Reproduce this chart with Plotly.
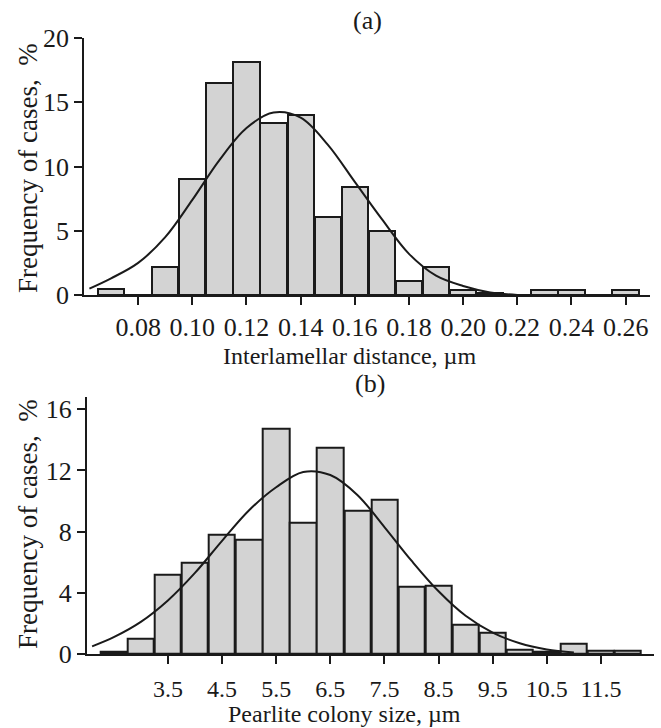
import plotly.graph_objects as go

# ---------------- data ----------------
# Panel (a): interlamellar distance histogram
a_centers = [0.07, 0.08, 0.09, 0.10, 0.11, 0.12, 0.13, 0.14, 0.15, 0.16,
             0.17, 0.18, 0.19, 0.20, 0.21, 0.22, 0.23, 0.24, 0.25, 0.26]
a_freq = [0.5, 0.0, 2.2, 9.0, 16.5, 18.1, 13.4, 14.0, 6.1, 8.4,
          5.0, 1.1, 2.2, 0.4, 0.15, 0.0, 0.4, 0.4, 0.0, 0.4]
a_curve_x = [0.062, 0.07, 0.08, 0.09, 0.10, 0.11, 0.12, 0.13, 0.14, 0.15,
             0.16, 0.17, 0.18, 0.19, 0.20, 0.21, 0.22]
a_curve_y = [0.5, 1.3, 2.5, 4.5, 7.4, 10.5, 13.0, 14.2, 13.8, 11.7,
             8.8, 5.9, 3.2, 1.5, 0.7, 0.2, 0.0]
a_tickvals = [0.08, 0.10, 0.12, 0.14, 0.16, 0.18, 0.20, 0.22, 0.24, 0.26]
a_ticktext = ["0.08", "0.10", "0.12", "0.14", "0.16", "0.18", "0.20", "0.22", "0.24", "0.26"]
a_ytickvals = [0, 5, 10, 15, 20]

# Panel (b): pearlite colony size histogram
b_centers = [2.5, 3.0, 3.5, 4.0, 4.5, 5.0, 5.5, 6.0, 6.5, 7.0,
             7.5, 8.0, 8.5, 9.0, 9.5, 10.0, 10.5, 11.0, 11.5, 12.0]
b_freq = [0.15, 1.0, 5.2, 6.0, 7.8, 7.45, 14.7, 8.6, 13.5, 9.35,
          10.1, 4.4, 4.45, 1.9, 1.4, 0.25, 0.15, 0.7, 0.2, 0.2]
b_curve_x = [2.1, 2.5, 3.0, 3.5, 4.0, 4.5, 5.0, 5.5, 6.0, 6.5,
             7.0, 7.5, 8.0, 8.5, 9.0, 9.5, 10.0, 10.5, 11.0]
b_curve_y = [0.5, 1.1, 2.1, 3.5, 5.3, 7.4, 9.4, 10.9, 11.9, 11.7,
             10.4, 8.3, 6.1, 4.1, 2.5, 1.4, 0.7, 0.3, 0.1]
b_tickvals = [3.5, 4.5, 5.5, 6.5, 7.5, 8.5, 9.5, 10.5, 11.5]
b_ticktext = ["3.5", "4.5", "5.5", "6.5", "7.5", "8.5", "9.5", "10.5", "11.5"]
b_ytickvals = [0, 4, 8, 12, 16]

# ---------------- styling ----------------
W, H = 661, 728
FONT = "Liberation Serif"
INK = "#1a1a1a"
BARFILL = "#d3d3d3"


def px(xp):
    return xp / W


def py(yp):
    return 1 - yp / H


fig = go.Figure()

fig.add_trace(go.Bar(x=a_centers, y=a_freq, width=0.0097,
                     marker=dict(color=BARFILL, line=dict(color=INK, width=2)),
                     xaxis="x", yaxis="y", hoverinfo="x+y"))
fig.add_trace(go.Scatter(x=a_curve_x, y=a_curve_y, mode="lines",
                         line=dict(color=INK, width=2, shape="spline"),
                         xaxis="x", yaxis="y"))
fig.add_trace(go.Bar(x=b_centers, y=b_freq, width=0.485,
                     marker=dict(color=BARFILL, line=dict(color=INK, width=2)),
                     xaxis="x2", yaxis="y2", hoverinfo="x+y"))
fig.add_trace(go.Scatter(x=b_curve_x, y=b_curve_y, mode="lines",
                         line=dict(color=INK, width=2, shape="spline"),
                         xaxis="x2", yaxis="y2"))

axis_common = dict(showgrid=False, zeroline=False, showline=True,
                   automargin=False,
                   linecolor=INK, linewidth=1.5, ticks="outside",
                   ticklen=8, tickwidth=1.5, tickcolor=INK,
                   tickfont=dict(family=FONT, size=26, color=INK))

fig.update_layout(
    template="none",
    width=W, height=H, autosize=False,
    margin=dict(l=0, r=0, t=0, b=0, pad=0),
    paper_bgcolor="white", plot_bgcolor="white",
    showlegend=False, bargap=0,
    xaxis=dict(axis_common, domain=[px(84), px(650)], range=[0.06, 0.269],
               tickvals=a_tickvals, ticktext=a_ticktext, anchor="y"),
    yaxis=dict(axis_common, domain=[py(295), py(38)], range=[0, 20],
               tickvals=a_ytickvals, anchor="x"),
    xaxis2=dict(axis_common, domain=[px(86.7), px(654)], range=[2.0, 12.48],
                tickvals=b_tickvals, ticktext=b_ticktext, anchor="y2",
                ticklabelstandoff=4,
                tickfont=dict(family=FONT, size=24, color=INK)),
    yaxis2=dict(axis_common, domain=[py(654), py(396.7)], range=[0, 16.82],
                tickvals=b_ytickvals, anchor="x2"),
)

ytitle_font = dict(family=FONT, size=27, color=INK)
xtitle_font = dict(family=FONT, size=24, color=INK)
panel_font = dict(family=FONT, size=26, color=INK)
annotations = [
    dict(text="(a)", x=px(367), y=py(20), font=panel_font),
    dict(text="Interlamellar distance, µm", x=px(350), y=py(356), font=xtitle_font),
    dict(text="Frequency of cases,  %", x=px(28), y=py(168), textangle=-90, font=ytitle_font),
    dict(text="(b)", x=px(370), y=py(383), font=panel_font),
    dict(text="Pearlite colony size, µm", x=px(344), y=py(714), font=xtitle_font),
    dict(text="Frequency of cases,  %", x=px(28), y=py(524), textangle=-90, font=ytitle_font),
]
for a in annotations:
    a.update(xref="paper", yref="paper", showarrow=False,
             xanchor="center", yanchor="middle")
fig.update_layout(annotations=annotations)

fig.write_html("out.html", config={"displayModeBar": False},
               post_script="document.body.style.margin='0';")
